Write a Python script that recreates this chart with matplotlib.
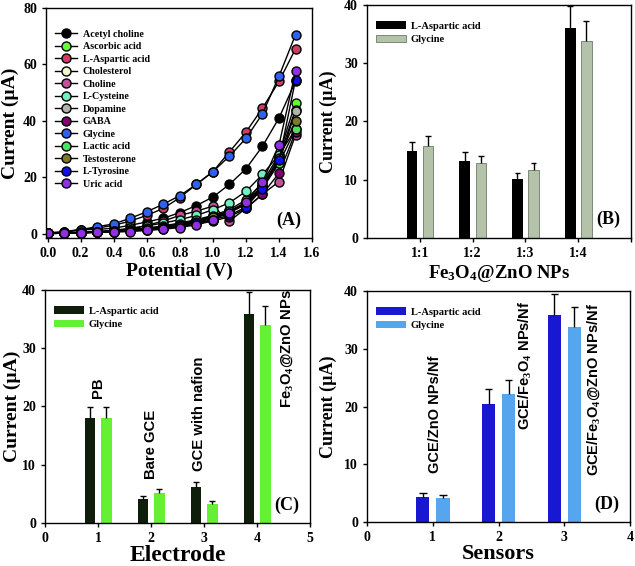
import matplotlib
matplotlib.use('Agg')
import matplotlib.pyplot as plt
import numpy as np

plt.rcParams['font.family'] = 'Liberation Serif'
plt.rcParams['font.weight'] = 'bold'
plt.rcParams['mathtext.fontset'] = 'custom'
plt.rcParams['mathtext.rm'] = 'Liberation Serif:bold'
plt.rcParams['mathtext.bf'] = 'Liberation Serif:bold'
plt.rcParams['mathtext.default'] = 'rm'

# panel A : current vs potential for each analyte
potential = [0.0, 0.1, 0.2, 0.3, 0.4, 0.5, 0.6, 0.7, 0.8, 0.9, 1.0, 1.1, 1.2, 1.3, 1.4, 1.5]
analytes = ['Acetyl choline', 'Ascorbic acid', 'L-Aspartic acid', 'Cholesterol', 'Choline',
            'L-Cysteine', 'Dopamine', 'GABA', 'Glycine', 'Lactic acid', 'Testosterone',
            'L-Tyrosine', 'Uric acid']
acetyl_choline = [0.2, 0.5, 1.5, 1.5, 2.0, 3.0, 4.2, 5.5, 7.5, 10.0, 13.0, 17.5, 23.0, 31.0, 41.0, 54.0]
ascorbic_acid = [0.1, 0.3, 0.5, 0.8, 1.0, 1.5, 2.0, 2.8, 3.8, 5.0, 6.5, 8.5, 12.0, 18.0, 28.0, 46.5]
aspartic_acid = [0.2, 0.5, 1.5, 2.0, 3.0, 4.5, 6.5, 9.0, 12.8, 17.5, 22.0, 29.0, 36.0, 44.5, 54.0, 65.5]
cholesterol = [0.1, 0.3, 0.5, 0.7, 1.0, 1.3, 1.8, 2.5, 3.3, 4.5, 6.0, 8.0, 11.0, 17.0, 27.0, 44.0]
choline = [0.1, 0.2, 0.3, 0.6, 0.8, 1.5, 3.0, 4.5, 6.5, 8.0, 9.8, 4.5, 9.0, 14.0, 18.5, 35.0]
cysteine = [0.1, 0.3, 0.5, 0.8, 1.2, 2.0, 2.8, 3.8, 5.0, 6.5, 8.5, 11.0, 15.0, 21.0, 28.0, 37.0]
dopamine = [0.1, 0.2, 0.4, 0.6, 0.8, 1.2, 1.6, 2.2, 3.0, 4.0, 5.5, 7.5, 10.5, 16.0, 25.0, 43.5]
gaba = [0.1, 0.2, 0.3, 0.5, 0.7, 1.0, 1.3, 1.8, 2.5, 3.3, 4.5, 6.0, 9.0, 14.0, 21.5, 36.0]
glycine = [0.3, 0.8, 1.5, 2.5, 3.5, 5.5, 7.8, 10.5, 13.5, 17.5, 22.0, 27.5, 33.8, 42.5, 55.8, 70.5]
lactic_acid = [0.1, 0.3, 0.5, 0.7, 1.0, 1.4, 1.9, 2.6, 3.5, 4.8, 6.3, 8.0, 11.0, 17.0, 25.0, 37.0]
testosterone = [0.1, 0.2, 0.4, 0.6, 0.9, 1.2, 1.7, 2.3, 3.2, 4.3, 5.8, 7.5, 10.5, 16.5, 27.0, 40.0]
tyrosine = [0.1, 0.2, 0.4, 0.6, 0.8, 1.1, 1.5, 2.0, 2.8, 3.8, 5.0, 6.5, 9.5, 16.0, 26.0, 54.5]
uric_acid = [0.1, 0.2, 0.3, 0.5, 0.6, 0.8, 1.2, 1.6, 2.2, 3.2, 5.0, 7.5, 11.3, 18.3, 31.5, 57.5]
series_a = [acetyl_choline, ascorbic_acid, aspartic_acid, cholesterol, choline, cysteine,
            dopamine, gaba, glycine, lactic_acid, testosterone, tyrosine, uric_acid]
colors_a = ['#000000', '#66ff33', '#d23c64', '#f2f5d0', '#c2509a', '#70f0c0',
            '#b0b4a8', '#800070', '#3060f0', '#50e060', '#7a7a2a', '#1010f0', '#9030e0']

# panel B : ratios
ratios = ['1:1', '1:2', '1:3', '1:4']
b_asp = [15.0, 13.2, 10.1, 36.0]
b_asp_err = [1.5, 1.5, 1.1, 3.8]
b_gly = [15.8, 12.8, 11.6, 33.9]
b_gly_err = [1.7, 1.3, 1.2, 3.4]

# panel C : electrodes
c_asp = [18.1, 4.2, 6.2, 35.9]
c_asp_err = [1.8, 0.5, 0.8, 3.7]
c_gly = [18.1, 5.1, 3.3, 33.9]
c_gly_err = [1.8, 0.7, 0.4, 3.4]
c_labels = ['PB', 'Bare GCE', 'GCE with nafion', r'Fe$_3$O$_4$@ZnO NPs']
c_label_x = [1.0, 2.0, 2.9, 4.57]
c_label_y = [21.5, 7.5, 8.9, 19.7]

# panel D : sensors
d_asp = [4.4, 20.5, 35.9]
d_asp_err = [0.6, 2.6, 3.6]
d_gly = [4.1, 22.2, 33.8]
d_gly_err = [0.5, 2.4, 3.5]
d_labels = ['GCE/ZnO NPs/Nf', r'GCE/Fe$_3$O$_4$ NPs/Nf', r'GCE/Fe$_3$O$_4$@ZnO NPs/Nf']
d_label_x = [1.03, 2.41, 3.44]
d_label_y = [8.5, 16.0, 7.9]

fig = plt.figure(figsize=(6.35, 5.66), dpi=100)
axA = fig.add_axes([0.0724, 0.5795, 0.419, 0.4064])
axB = fig.add_axes([0.578, 0.5795, 0.4157, 0.4117])
axC = fig.add_axes([0.0709, 0.076, 0.4173, 0.4117])
axD = fig.add_axes([0.578, 0.0777, 0.4142, 0.408])


def style(ax):
    for s in ax.spines.values():
        s.set_linewidth(1.0)
    ax.tick_params(direction='out', length=3, width=1, labelsize=10)
    for t in ax.get_xticklabels() + ax.get_yticklabels():
        t.set_fontweight('bold')


# ---- A
for name, vals, col in zip(analytes, series_a, colors_a):
    axA.plot(potential, vals, '-o', color='black', lw=1, markersize=6.5,
             markerfacecolor=col, markeredgecolor='black', markeredgewidth=1, label=name)
axA.set_xlim(-0.01, 1.6)
axA.set_ylim(-1.5, 80)
axA.set_xticks(np.arange(0, 1.61, 0.2))
axA.set_xticklabels(['%.1f' % v for v in np.arange(0, 1.61, 0.2)])
axA.set_yticks([0, 20, 40, 60, 80])
axA.set_xlabel('Potential (V)', fontsize=14, fontweight='bold', labelpad=2)
axA.set_ylabel('Current (µA)', fontsize=14, fontweight='bold', labelpad=3)
axA.legend(loc='upper left', bbox_to_anchor=(0.0, 0.945), frameon=False,
           prop={'family': 'Liberation Serif', 'weight': 'bold', 'size': 7.2},
           labelspacing=0.35, handlelength=2.2, handletextpad=0.6, borderpad=0.4)
axA.text(0.96, 0.04, '(A)', transform=axA.transAxes, ha='right', va='bottom',
         fontsize=13, fontweight='bold')
style(axA)


def bars(ax, pos, a, a_err, g, g_err, ca, cg, ec_g='none'):
    pos = np.array(pos, dtype=float)
    xa = pos - 0.15
    xg = pos + 0.155
    ax.bar(xa, a, width=0.2, color=ca, edgecolor='none', label='L-Aspartic acid')
    ax.bar(xg, g, width=0.2, color=cg, edgecolor=ec_g, linewidth=0.5, label='Glycine')
    for x, y, e in [(xa, a, a_err), (xg, g, g_err)]:
        top = np.array(y) + np.array(e)
        ax.vlines(x, y, top, color='black', lw=1)
        ax.hlines(top, x - 0.055, x + 0.055, color='black', lw=1)
    ax.set_ylim(0, 40)
    ax.set_yticks([0, 10, 20, 30, 40])
    ax.legend(loc='upper left', bbox_to_anchor=(0.0, 0.97), frameon=False,
              prop={'family': 'Liberation Serif', 'weight': 'bold', 'size': 7.5},
              handlelength=2.8, handleheight=0.7, labelspacing=0.4, handletextpad=0.5)


# ---- B
bars(axB, [1, 2, 3, 4], b_asp, b_asp_err, b_gly, b_gly_err, '#000000', '#b4c2aa', ec_g='#556655')
axB.set_xlim(0, 5)
axB.set_xticks([1, 2, 3, 4, 5])
axB.set_xticklabels(ratios + [''])
axB.set_xlabel(r'Fe$_3$O$_4$@ZnO NPs', fontsize=13.5, fontweight='bold', labelpad=2)
axB.set_ylabel('Current (µA)', fontsize=13, fontweight='bold', labelpad=5)
axB.text(0.958, 0.043, '(B)', transform=axB.transAxes, ha='right', va='bottom',
         fontsize=13, fontweight='bold')
style(axB)

# ---- C
bars(axC, [1, 2, 3, 4], c_asp, c_asp_err, c_gly, c_gly_err, '#0f1e0a', '#66f033')
axC.set_xlim(0, 5)
axC.set_xticks([0, 1, 2, 3, 4, 5])
axC.set_xlabel('Electrode', fontsize=17, fontweight='bold', labelpad=0)
axC.set_ylabel('Current (µA)', fontsize=14, fontweight='bold', labelpad=1)
for lab, x, y in zip(c_labels, c_label_x, c_label_y):
    axC.text(x, y, lab, rotation=90, ha='center', va='bottom', fontsize=10.7,
             fontweight='bold', family='Liberation Sans')
axC.text(0.96, 0.04, '(C)', transform=axC.transAxes, ha='right', va='bottom',
         fontsize=13, fontweight='bold')
style(axC)

# ---- D
bars(axD, [1, 2, 3], d_asp, d_asp_err, d_gly, d_gly_err, '#1818d0', '#55a6ee')
axD.set_xlim(0, 4)
axD.set_xticks([0, 1, 2, 3, 4])
axD.set_xlabel('Sensors', fontsize=16, fontweight='bold', labelpad=0)
axD.set_ylabel('Current (µA)', fontsize=13, fontweight='bold', labelpad=5)
for lab, x, y in zip(d_labels, d_label_x, d_label_y):
    axD.text(x, y, lab, rotation=90, ha='center', va='bottom', fontsize=10.5,
             fontweight='bold', family='Liberation Sans')
axD.text(0.96, 0.04, '(D)', transform=axD.transAxes, ha='right', va='bottom',
         fontsize=13, fontweight='bold')
style(axD)

fig.savefig('out.png', dpi=100)
